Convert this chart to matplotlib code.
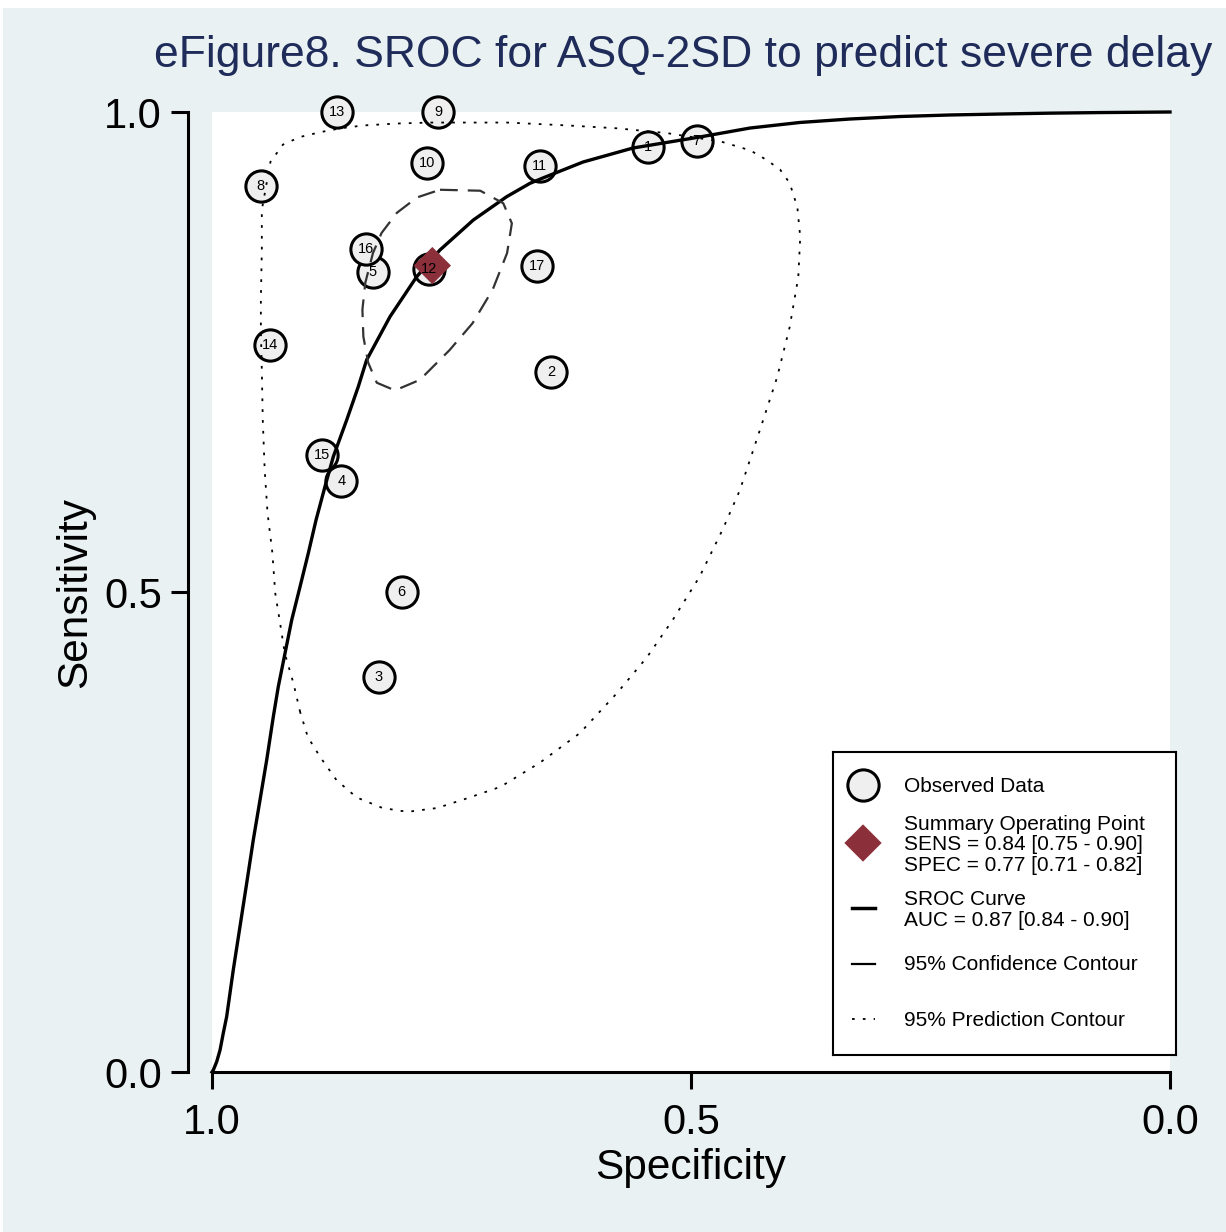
import numpy as np
import matplotlib.pyplot as plt
from matplotlib.patches import Rectangle

plt.rcParams['font.family'] = ['Liberation Sans', 'DejaVu Sans']

# study-level estimates (specificity, sensitivity)
study_id = [1, 2, 3, 4, 5, 6, 7, 8, 9, 10, 11, 12, 13, 14, 15, 16, 17]
study_spec = [0.545, 0.646, 0.826, 0.865, 0.832, 0.802, 0.494, 0.949, 0.764,
              0.776, 0.658, 0.773, 0.870, 0.939, 0.885, 0.839, 0.661]
study_sens = [0.964, 0.729, 0.411, 0.616, 0.833, 0.500, 0.970, 0.923, 1.000,
              0.947, 0.944, 0.836, 1.000, 0.757, 0.643, 0.857, 0.840]

# summary operating point
summ_sens = 0.84
summ_spec = 0.77

# SROC curve
sroc_spec = [1.0000, 0.9986, 0.9951, 0.9916, 0.9882, 0.9847, 0.9812, 0.9778,
             0.9708, 0.9638, 0.9569, 0.9499, 0.9429, 0.9360, 0.9308, 0.9238,
             0.9168, 0.9081, 0.8995, 0.8914, 0.8821, 0.8734, 0.8594, 0.8473,
             0.8386, 0.8142, 0.7863, 0.7620, 0.7272, 0.6924, 0.6681, 0.6545,
             0.6127, 0.5605, 0.4906, 0.4384, 0.3862, 0.3340, 0.2818, 0.2296,
             0.1775, 0.1253, 0.0731, 0.0000]
sroc_sens = [0.0000, 0.0021, 0.0107, 0.0229, 0.0406, 0.0576, 0.0823, 0.1063,
             0.1514, 0.1966, 0.2417, 0.2833, 0.3250, 0.3701, 0.4014, 0.4361,
             0.4708, 0.5055, 0.5403, 0.5750, 0.6097, 0.6409, 0.6792, 0.7139,
             0.7417, 0.7868, 0.8285, 0.8563, 0.8875, 0.9118, 0.9257, 0.9313,
             0.9479, 0.9625, 0.9740, 0.9833, 0.9891, 0.9927, 0.9953, 0.9969,
             0.9979, 0.9988, 0.9994, 1.0000]

# 95% confidence contour
conf_spec = [0.762, 0.720, 0.696, 0.687, 0.692, 0.707, 0.728, 0.752, 0.783,
             0.809, 0.828, 0.837, 0.842, 0.843, 0.840, 0.832, 0.823, 0.807,
             0.786, 0.762]
conf_sens = [0.919, 0.918, 0.905, 0.884, 0.853, 0.815, 0.780, 0.752, 0.721,
             0.710, 0.718, 0.739, 0.766, 0.794, 0.822, 0.853, 0.874, 0.895,
             0.911, 0.919]

# 95% prediction contour
pred_spec = [0.908, 0.915, 0.924, 0.929, 0.934, 0.937, 0.942, 0.945, 0.947,
             0.948, 0.949, 0.949, 0.948, 0.948, 0.939, 0.926, 0.908, 0.887,
             0.866, 0.842, 0.807, 0.772, 0.738, 0.692, 0.629, 0.577, 0.525,
             0.468, 0.438, 0.421, 0.407, 0.397, 0.389, 0.386, 0.388, 0.397,
             0.410, 0.428, 0.449, 0.467, 0.491, 0.519, 0.546, 0.577, 0.616,
             0.658, 0.699, 0.734, 0.765, 0.796, 0.822, 0.849, 0.870, 0.887,
             0.900, 0.908]
pred_sens = [0.375, 0.405, 0.436, 0.468, 0.499, 0.541, 0.582, 0.627, 0.679,
             0.731, 0.773, 0.804, 0.856, 0.898, 0.948, 0.966, 0.974, 0.979,
             0.983, 0.986, 0.988, 0.989, 0.989, 0.989, 0.986, 0.983, 0.978,
             0.969, 0.960, 0.950, 0.940, 0.926, 0.901, 0.870, 0.828, 0.776,
             0.724, 0.669, 0.606, 0.565, 0.516, 0.471, 0.432, 0.395, 0.353,
             0.322, 0.297, 0.285, 0.275, 0.271, 0.275, 0.286, 0.304, 0.328,
             0.349, 0.375]

W, H = 1226, 1232
bg = '#e9f1f3'
fig = plt.figure(figsize=(W / 100, H / 100), dpi=100, facecolor='white')
fig.patches.append(Rectangle((3 / W, 0), 1, 1 - 8 / H, transform=fig.transFigure,
                             facecolor=bg, edgecolor='none', zorder=-10))

ax = fig.add_axes([212 / W, 160 / H, 958 / W, 960 / H])
ax.set_facecolor('white')

ax.scatter(study_spec, study_sens, s=22.5 ** 2, facecolor='#efefef', edgecolor='black',
           linewidth=2.2, zorder=2, clip_on=False)
for i, sx, sy in zip(study_id, study_spec, study_sens):
    ax.text(sx, sy, str(i), ha='center', va='center', fontsize=10.5, zorder=6)

ax.plot(sroc_spec, sroc_sens, color='black', lw=2.4, zorder=3,
        solid_joinstyle='round', clip_on=False)
ax.plot(conf_spec, conf_sens, color='#333333', lw=1.6, ls=(0, (8, 4.5)), zorder=3)
ax.plot(pred_spec, pred_sens, color='black', lw=1.3, ls=(0, (1.5, 4.5)), zorder=3)
ax.scatter([summ_spec], [summ_sens], marker='D', s=19 ** 2, color='#8b2f3a',
           edgecolor='none', zorder=5)

ax.set_xlim(1, 0)
ax.set_ylim(0, 1)
ax.set_xticks([1.0, 0.5, 0.0])
ax.set_yticks([0.0, 0.5, 1.0])
ax.set_xticklabels(['1.0', '0.5', '0.0'])
ax.set_yticklabels(['0.0', '0.5', '1.0'])
ax.tick_params(length=12, width=2.2, labelsize=30, pad=7)
ax.tick_params(axis='x', pad=10)
for side in ['top', 'right']:
    ax.spines[side].set_visible(False)
for side in ['left', 'bottom']:
    ax.spines[side].set_linewidth(2.2)
ax.spines['left'].set_position(('outward', 17))
ax.spines['left'].set_bounds(0, 1)
ax.set_xlabel('Specificity', fontsize=30.5)
ax.set_ylabel('Sensitivity', fontsize=30.5)
ax.xaxis.set_label_coords(0.5, -0.079)
ax.yaxis.set_label_coords(-0.122, 0.5)

fig.text(683 / W, 1 - 55 / H, 'eFigure8. SROC for ASQ-2SD to predict severe delay',
         ha='center', va='center', fontsize=32, color='#1f2c5a')

# legend box drawn in its own pixel-based axes
lg = fig.add_axes([833 / W, (H - 1055) / H, 343 / W, 303 / H])
lg.set_xlim(0, 343)
lg.set_ylim(303, 0)
lg.set_xticks([])
lg.set_yticks([])
lg.set_facecolor('white')
for sp in lg.spines.values():
    sp.set_linewidth(1.5)

tx = 71
fs = 15
lg.scatter([30], [33], s=22.5 ** 2, facecolor='#efefef', edgecolor='black', linewidth=2.2)
lg.text(tx, 34, 'Observed Data', va='center', fontsize=fs)
lg.scatter([30], [91], marker='D', s=19 ** 2, color='#8b2f3a', edgecolor='none')
lg.text(tx, 93, 'Summary Operating Point\nSENS = 0.84 [0.75 - 0.90]\nSPEC = 0.77 [0.71 - 0.82]',
        va='center', fontsize=fs, linespacing=1.1)
lg.plot([19, 42], [156, 156], color='black', lw=2.5)
lg.text(tx, 158, 'SROC Curve\nAUC = 0.87 [0.84 - 0.90]', va='center', fontsize=fs,
        linespacing=1.1)
lg.plot([19, 42], [212, 212], color='black', lw=1.6)
lg.text(tx, 213, '95% Confidence Contour', va='center', fontsize=fs)
lg.plot([19, 42], [267, 267], color='black', lw=1.3, ls=(0, (1.5, 4.5)))
lg.text(tx, 268, '95% Prediction Contour', va='center', fontsize=fs)

fig.savefig('out.png', dpi=100, facecolor=fig.get_facecolor())
